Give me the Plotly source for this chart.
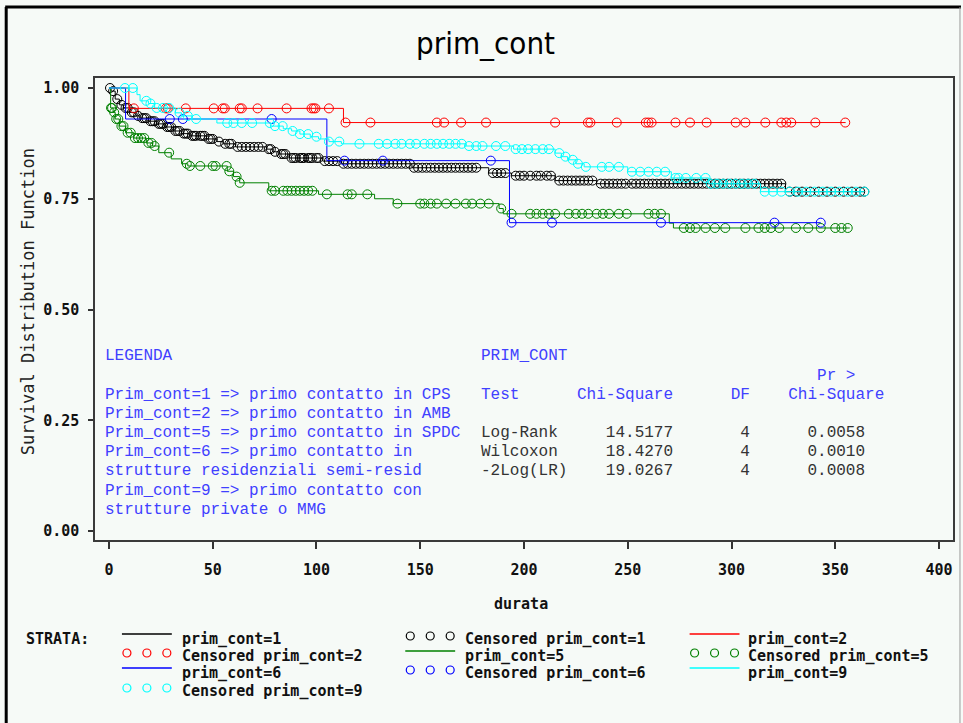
import numpy as np
import plotly.graph_objects as go

# ---------------- Kaplan-Meier estimates by stratum (prim_cont) ----------------
# event times (durata) and survival probability right after each event
pc1_time = [1, 3, 5, 7, 10, 13, 15, 19, 23, 27, 31, 35, 39, 47, 52, 55, 61, 76, 79, 82, 87,
            103, 112, 146, 183, 194, 215, 235, 326]
pc1_surv = [0.993, 0.975, 0.962, 0.955, 0.945, 0.937, 0.932, 0.925, 0.919, 0.912, 0.903, 0.897,
            0.892, 0.885, 0.879, 0.874, 0.867, 0.862, 0.856, 0.851, 0.842, 0.835, 0.829, 0.820,
            0.808, 0.802, 0.791, 0.784, 0.766]
pc1_end = 364
pc1_cens = [0.5, 2, 4, 6, 8, 9, 11, 12, 14, 16, 17, 18, 20, 21, 22, 24, 25, 26, 28, 29, 30, 32,
            33, 34, 36, 37, 38, 40, 41, 42, 44, 45, 46, 48, 49, 50, 53, 56, 58, 59, 62, 64, 66,
            68, 70, 72, 74, 77, 78, 80, 83, 84, 85, 88, 89, 90, 92, 93, 94, 96, 97, 98, 100, 101,
            104, 106, 108, 110, 113, 115, 117, 119, 121, 123, 125, 127, 129, 131, 133, 135, 137,
            139, 141, 143, 145, 147, 149, 151, 153, 155, 157, 159, 161, 163, 165, 167, 169, 171,
            173, 175, 177, 185, 187, 189, 191, 196, 198, 200, 203, 206, 208, 211, 213, 217, 219,
            221, 223, 225, 227, 229, 231, 233, 237, 239, 241, 243, 245, 247, 249, 252, 254, 256,
            258, 260, 262, 264, 266, 268, 270, 272, 274, 276, 278, 280, 282, 284, 286, 288, 290,
            292, 294, 296, 298, 300, 302, 304, 306, 308, 310, 312, 314, 316, 318, 320, 322, 324,
            328, 331, 334, 338, 342, 346, 350, 354, 358, 362, 364]

pc2_time = [9.6, 113]
pc2_surv = [0.954, 0.922]
pc2_end = 355
pc2_cens = [12, 27.4, 28.4, 37, 50.5, 54.8, 55.8, 63, 64, 71.6, 85.6, 97.6, 98.6, 99.5, 106,
            114, 126, 158, 161.5, 169.7, 181.7, 215, 230.8, 232, 244.7, 258.7, 260, 261.5, 273,
            280, 288, 302, 306.7, 316.3, 324, 326.4, 328.8, 340.4, 354.8]

pc5_time = [0.8, 2, 3, 5, 8, 12, 18, 21, 24, 30, 35, 38, 57, 60, 63, 77, 101, 128, 137, 188,
            190, 270, 272]
pc5_surv = [0.955, 0.945, 0.930, 0.914, 0.899, 0.887, 0.876, 0.869, 0.854, 0.840, 0.829, 0.824,
            0.812, 0.800, 0.786, 0.768, 0.760, 0.750, 0.739, 0.728, 0.716, 0.695, 0.684]
pc5_end = 357
pc5_cens = [1, 1.5, 2.5, 3.5, 4.5, 6, 7, 9, 10.5, 12.5, 14, 15.5, 17, 19, 20.5, 22, 29, 37.5,
            39, 44, 50, 51.4, 56.7, 58, 61.5, 63, 78.4, 80, 84, 86, 88, 90, 92, 94, 96, 98, 105,
            115, 117, 124.5, 139, 150, 152, 155, 158, 162.5, 167, 172, 175, 179, 183, 189, 194,
            203, 206, 209, 212, 215, 221.6, 225, 228, 231, 235, 238, 241, 245.7, 249.5, 260, 263,
            266, 277, 280, 282.7, 287.5, 292, 297, 306.7, 313, 316, 319, 323, 331, 337, 343, 350,
            353, 356]

pc6_time = [8, 105, 193]
pc6_surv = [0.930, 0.836, 0.696]
pc6_end = 343
pc6_cens = [29.3, 35.6, 78.4, 113.5, 132, 184, 194, 213.5, 266, 320.7, 343]

pc9_time = [13.5, 15, 19, 22, 32, 35, 40, 52, 78, 84, 88, 92, 97, 101, 106, 112, 172, 195, 215,
            218, 221, 225, 229, 250, 271, 289, 314]
pc9_surv = [0.985, 0.971, 0.965, 0.955, 0.944, 0.937, 0.930, 0.921, 0.914, 0.908, 0.903, 0.896,
            0.890, 0.885, 0.879, 0.874, 0.869, 0.862, 0.853, 0.845, 0.838, 0.829, 0.822, 0.811,
            0.797, 0.784, 0.766]
pc9_end = 364
pc9_cens = [7.7, 11.5, 18, 20, 23, 26, 29, 34, 38, 42, 57, 60, 64, 69, 77.5, 80, 83.7, 88.5,
            92, 96, 100, 106, 111, 120.7, 130, 134, 138, 141, 145, 148, 152, 155, 158, 161, 164,
            167, 170, 173.5, 177, 180, 186.5, 191, 196, 199, 202, 205.5, 209, 212, 217, 220,
            223.5, 226, 229.8, 237.5, 241, 245.7, 252, 256, 260, 264, 268, 273, 274.5, 278, 283,
            287.5, 290, 293, 296, 299, 302, 305, 308, 311, 316, 320, 324, 328, 332, 336, 340,
            344, 348, 352, 356, 360, 364]

strata = [
    ("prim_cont=1", pc1_time, pc1_surv, pc1_end, pc1_cens, "#000000"),
    ("prim_cont=2", pc2_time, pc2_surv, pc2_end, pc2_cens, "#ff0000"),
    ("prim_cont=5", pc5_time, pc5_surv, pc5_end, pc5_cens, "#008000"),
    ("prim_cont=6", pc6_time, pc6_surv, pc6_end, pc6_cens, "#0000ff"),
    ("prim_cont=9", pc9_time, pc9_surv, pc9_end, pc9_cens, "#00ffff"),
]

x_ticks = [0, 50, 100, 150, 200, 250, 300, 350, 400]
y_ticks = [0.0, 0.25, 0.5, 0.75, 1.0]
y_tick_text = ["0.00", "0.25", "0.50", "0.75", "1.00"]

legenda_lines = [
    "LEGENDA",
    "Prim_cont=1 => primo contatto in CPS",
    "Prim_cont=2 => primo contatto in AMB",
    "Prim_cont=5 => primo contatto in SPDC",
    "Prim_cont=6 => primo contatto in",
    "strutture residenziali semi-resid",
    "Prim_cont=9 => primo contatto con",
    "strutture private o MMG",
]
test_names = ["Log-Rank", "Wilcoxon", "-2Log(LR)"]
chi_square = ["14.5177", "18.4270", "19.0267"]
dfs = ["4", "4", "4"]
p_values = ["0.0058", "0.0010", "0.0008"]

# ---------------- geometry (pixels) ----------------
W, H = 963, 723
L, R, T, B = 95, 955, 78, 540
BG = "#f6faf7"


def px(x):
    return (x - L) / (R - L)


def py(y):
    return (B - y) / (B - T)


def surv_at(times, surv, t):
    s = 1.0
    for ti, si in zip(times, surv):
        if ti <= t:
            s = si
    return s


fig = go.Figure()

for name, times, surv, end, cens, color in strata:
    xs = [0] + list(times) + [end]
    ys = [1.0] + list(surv) + [surv[-1]]
    fig.add_trace(go.Scatter(x=xs, y=ys, mode="lines", line=dict(color=color, width=1, shape="hv"),
                             name=name, showlegend=False, hoverinfo="skip"))
    cy = [surv_at(times, surv, t) for t in cens]
    fig.add_trace(go.Scatter(x=cens, y=cy, mode="markers",
                             marker=dict(symbol="circle-open", size=9, color=color, line=dict(width=1)),
                             name="Censored " + name, showlegend=False, hoverinfo="skip"))

NB = "\u00a0"
tick_font = dict(family="DejaVu Sans Mono", size=15, color="#111111", weight="bold")

fig.update_layout(
    width=W, height=H,
    margin=dict(l=L, r=W - R, t=T, b=H - B),
    paper_bgcolor=BG, plot_bgcolor=BG,
    showlegend=False,
    xaxis=dict(range=[(L - 109) / 2.08, (R - 109) / 2.08], tickvals=x_ticks,
               ticks="outside", ticklen=7, tickwidth=1.5, tickcolor="#333333",
               showline=True, mirror=True, linecolor="#3a3a3a", linewidth=1.5,
               showgrid=False, zeroline=False, tickfont=tick_font, ticklabelstandoff=8),
    yaxis=dict(range=[-9 / 443, 1 + 10 / 443], tickvals=y_ticks, ticktext=y_tick_text,
               ticks="outside", ticklen=5, tickwidth=1.5, tickcolor="#333333",
               showline=True, mirror=True, linecolor="#3a3a3a", linewidth=1.5,
               showgrid=False, zeroline=False, tickfont=tick_font, ticklabelstandoff=6),
)


def label(text, x, y, font, xanchor="center", angle=0):
    return dict(text=text, x=px(x), y=py(y), xref="paper", yref="paper", showarrow=False,
                xanchor=xanchor, yanchor="middle", textangle=angle, font=font)


ann = []
# title and axis labels
ann.append(label("prim_cont", 486, 43,
                 dict(family="Liberation Sans Narrow, DejaVu Sans Condensed, Liberation Sans, sans-serif",
                      size=31, color="#000000")))
ann.append(label("durata", 522, 604, tick_font))
ann.append(label("Survival Distribution Function", 28, 302,
                 dict(family="DejaVu Sans Mono", size=17, color="#222222"), angle=-90))

# text boxes inside the plot
BLUE = "#4040ff"
GREY = "#333333"
mono = "Liberation Mono"
leg_y = [356, 395, 414, 433, 452, 471, 491, 510]
for txt, yy in zip(legenda_lines, leg_y):
    ann.append(label(txt.replace(" ", NB), 103, yy, dict(family=mono, size=16, color=BLUE), "left"))

hdr = [("PRIM_CONT", 356), (NB * 35 + "Pr" + NB + ">", 376),
       ("Test" + NB * 6 + "Chi-Square" + NB * 6 + "DF" + NB * 4 + "Chi-Square", 395)]
for txt, yy in hdr:
    ann.append(label(txt, 480, yy, dict(family=mono, size=16, color=BLUE), "left"))
for i, yy in enumerate([433, 452, 471]):
    row = (test_names[i].ljust(13) + chi_square[i].ljust(14) + dfs[i].ljust(7) + p_values[i])
    ann.append(label(row.replace(" ", NB), 480, yy, dict(family=mono, size=16, color=GREY), "left"))

# strata key below the plot
ann.append(label("STRATA:", 24, 639, tick_font, "left"))

shapes = []
key_cols = [(122, 180), (406, 464), (691, 748)]
key_rows = [639, 656, 673, 691]
key_items = [
    (0, 0, "line", "#000000", "prim_cont=1"),
    (0, 1, "circ", "#ff0000", "Censored prim_cont=2"),
    (0, 2, "line", "#0000ff", "prim_cont=6"),
    (0, 3, "circ", "#00ffff", "Censored prim_cont=9"),
    (1, 0, "circ", "#000000", "Censored prim_cont=1"),
    (1, 1, "line", "#008000", "prim_cont=5"),
    (1, 2, "circ", "#0000ff", "Censored prim_cont=6"),
    (2, 0, "line", "#ff0000", "prim_cont=2"),
    (2, 1, "circ", "#008000", "Censored prim_cont=5"),
    (2, 2, "line", "#00ffff", "prim_cont=9"),
]
for c, r, kind, color, text in key_items:
    x0, xt = key_cols[c]
    yy = key_rows[r]
    if kind == "line":
        shapes.append(dict(type="line", xref="paper", yref="paper", x0=px(x0), x1=px(x0 + 50),
                           y0=py(yy - 5), y1=py(yy - 5), line=dict(color=color, width=1.5)))
    else:
        for cx in (x0 + 5, x0 + 25, x0 + 45):
            shapes.append(dict(type="circle", xref="paper", yref="paper",
                               x0=px(cx - 4), x1=px(cx + 4), y0=py(yy - 7), y1=py(yy + 1),
                               line=dict(color=color, width=1.2)))
    ann.append(label(text, xt, yy, tick_font, "left"))

# outer frame of the page
shapes.append(dict(type="line", xref="paper", yref="paper", x0=px(6), x1=px(6), y0=py(7), y1=py(H),
                   line=dict(color="#000000", width=3)))
shapes.append(dict(type="line", xref="paper", yref="paper", x0=px(5), x1=px(W), y0=py(7), y1=py(7),
                   line=dict(color="#000000", width=3)))
shapes.append(dict(type="line", xref="paper", yref="paper", x0=px(962), x1=px(962), y0=py(7),
                   y1=py(H), line=dict(color="#999999", width=1)))

fig.update_layout(annotations=ann, shapes=shapes)
fig.write_html("out.html")
